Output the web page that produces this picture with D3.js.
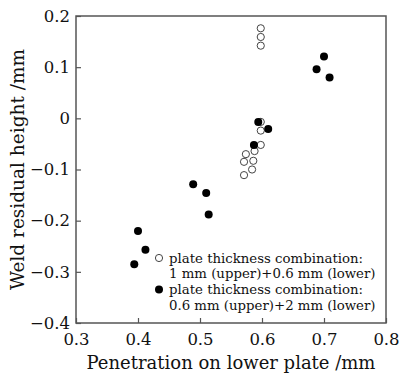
<!DOCTYPE html>
<html>
<head>
<meta charset="utf-8">
<script src="https://cdn.jsdelivr.net/npm/d3@7"></script>
<style>
  body { margin: 0; background: #fff; }
  svg { display: block; font-family: "DejaVu Serif", "Liberation Serif", serif; }
</style>
</head>
<body>
<svg id="chart" width="402" height="380"></svg>
<script>
// values
const openX = [0.598, 0.598, 0.598, 0.598, 0.598, 0.598, 0.588, 0.574, 0.586, 0.571, 0.584, 0.571];
const openY = [0.176, 0.159, 0.142, -0.007, -0.024, -0.052, -0.064, -0.070, -0.083, -0.085, -0.100, -0.111];
const filledX = [0.400, 0.412, 0.394, 0.489, 0.510, 0.514, 0.587, 0.594, 0.610, 0.700, 0.688, 0.709];
const filledY = [-0.220, -0.257, -0.285, -0.129, -0.146, -0.188, -0.052, -0.007, -0.021, 0.121, 0.096, 0.080];

const xTicks = [0.3, 0.4, 0.5, 0.6, 0.7, 0.8];
const xTickLabels = ["0.3", "0.4", "0.5", "0.6", "0.7", "0.8"];
const yTicks = [0.2, 0.1, 0, -0.1, -0.2, -0.3, -0.4];
const yTickLabels = ["0.2", "0.1", "0", "\u22120.1", "\u22120.2", "\u22120.3", "\u22120.4"];

const legendLines = [
  ["plate thickness combination:", "1 mm (upper)+0.6 mm (lower)"],
  ["plate thickness combination:", "0.6 mm (upper)+2 mm (lower)"]
];

const svg = d3.select("#chart"),
  margin = { top: 16, right: 16, bottom: 57, left: 76 },
  width = +svg.attr("width") - margin.left - margin.right,
  height = +svg.attr("height") - margin.top - margin.bottom;

const g = svg.append("g")
  .attr("transform", `translate(${margin.left},${margin.top})`);

const x = d3.scaleLinear().domain([0.3, 0.8]).range([0, width]);
const y = d3.scaleLinear().domain([-0.4, 0.2]).range([height, 0]);

const axisColor = "#555";

// x axis, ticks pointing inward
const xAxis = g.append("g")
  .attr("transform", `translate(0,${height})`)
  .call(d3.axisBottom(x)
    .tickValues(xTicks)
    .tickFormat((d, i) => xTickLabels[i])
    .tickSizeInner(-5)
    .tickSizeOuter(0)
    .tickPadding(10));

const yAxis = g.append("g")
  .call(d3.axisLeft(y)
    .tickValues(yTicks)
    .tickFormat((d, i) => yTickLabels[i])
    .tickSizeInner(-5)
    .tickSizeOuter(0)
    .tickPadding(6));

[xAxis, yAxis].forEach(a => {
  a.select(".domain").remove();
  a.selectAll("line").attr("stroke", axisColor).attr("stroke-width", 1.2);
  a.selectAll("text")
    .attr("fill", "#111")
    .style("font-family", "DejaVu Serif, serif")
    .style("font-size", "16.5px");
});

// frame
g.append("rect")
  .attr("width", width)
  .attr("height", height)
  .attr("fill", "none")
  .attr("stroke", axisColor)
  .attr("stroke-width", 1.5);

// points
g.selectAll(".open")
  .data(openX.map((v, i) => [v, openY[i]]))
  .enter().append("circle")
  .attr("cx", d => x(d[0]))
  .attr("cy", d => y(d[1]))
  .attr("r", 3.6)
  .attr("fill", "#fff")
  .attr("stroke", "#444")
  .attr("stroke-width", 1);

g.selectAll(".filled")
  .data(filledX.map((v, i) => [v, filledY[i]]))
  .enter().append("circle")
  .attr("cx", d => x(d[0]))
  .attr("cy", d => y(d[1]))
  .attr("r", 4)
  .attr("fill", "#000");

// legend
const legend = svg.append("g").attr("transform", "translate(159,258)");
legendLines.forEach((lines, i) => {
  const row = legend.append("g").attr("transform", `translate(0,${i * 31.5})`);
  if (i === 0) {
    row.append("circle").attr("r", 3.6).attr("fill", "#fff")
      .attr("stroke", "#444").attr("stroke-width", 1);
  } else {
    row.append("circle").attr("r", 4).attr("fill", "#000");
  }
  lines.forEach((t, j) => {
    row.append("text")
      .attr("x", 10)
      .attr("y", j * 15.5)
      .attr("dy", "0.35em")
      .attr("font-size", "13.3px")
      .attr("fill", "#111")
      .text(t);
  });
});

// axis titles
svg.append("text")
  .attr("x", margin.left + width / 2)
  .attr("y", 369)
  .attr("text-anchor", "middle")
  .attr("font-size", "18px")
  .attr("fill", "#111")
  .text("Penetration on lower plate /mm");

svg.append("text")
  .attr("transform", `translate(24,${margin.top + height / 2}) rotate(-90)`)
  .attr("text-anchor", "middle")
  .attr("font-size", "18.5px")
  .attr("fill", "#111")
  .text("Weld residual height /mm");
</script>
</body>
</html>
